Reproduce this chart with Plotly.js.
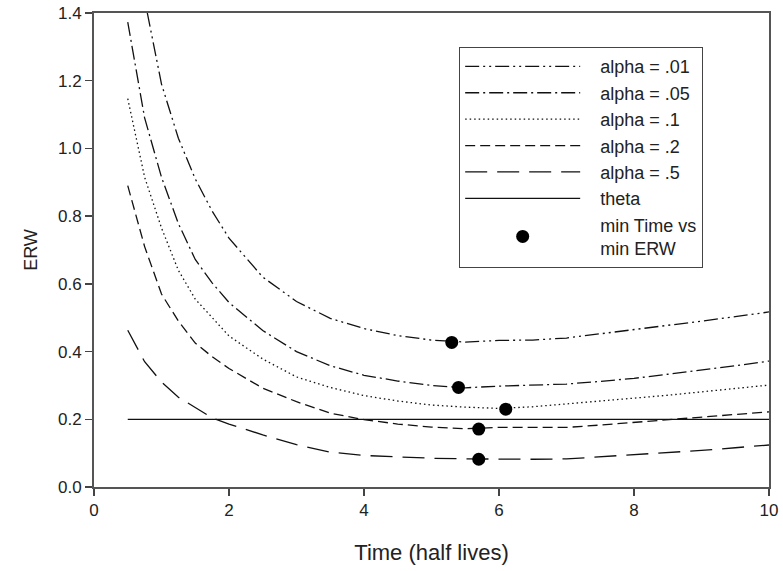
<!DOCTYPE html>
<html>
<head>
<meta charset="utf-8">
<script src="https://cdn.plot.ly/plotly-3.0.1.min.js"></script>
<style>html,body{margin:0;padding:0;background:#fff;}#chart{width:783px;height:571px;}</style>
</head>
<body>
<div id="chart"></div>
<script>
var time = [0.5, 0.75, 1, 1.25, 1.5, 1.75, 2, 2.5, 3, 3.5, 4, 4.5, 5, 5.5, 6, 6.5, 7, 7.5, 8, 8.5, 9, 9.5, 10];
var erwAlpha01 = [1.75, 1.44, 1.19, 1.03, 0.91, 0.815, 0.735, 0.62, 0.548, 0.498, 0.468, 0.447, 0.434, 0.428, 0.433, 0.434, 0.440, 0.452, 0.465, 0.477, 0.490, 0.503, 0.517];
var erwAlpha05 = [1.373, 1.09, 0.915, 0.778, 0.672, 0.603, 0.545, 0.462, 0.400, 0.358, 0.330, 0.313, 0.300, 0.293, 0.298, 0.300, 0.304, 0.312, 0.321, 0.333, 0.345, 0.358, 0.372];
var erwAlpha1 = [1.147, 0.915, 0.765, 0.64, 0.555, 0.50, 0.446, 0.378, 0.325, 0.294, 0.270, 0.254, 0.242, 0.236, 0.232, 0.237, 0.245, 0.254, 0.262, 0.271, 0.281, 0.291, 0.301];
var erwAlpha2 = [0.89, 0.71, 0.57, 0.49, 0.425, 0.385, 0.350, 0.292, 0.252, 0.218, 0.199, 0.186, 0.177, 0.172, 0.176, 0.176, 0.176, 0.183, 0.191, 0.199, 0.207, 0.214, 0.222];
var erwAlpha5 = [0.463, 0.37, 0.31, 0.265, 0.235, 0.204, 0.186, 0.154, 0.125, 0.103, 0.093, 0.088, 0.085, 0.083, 0.082, 0.082, 0.083, 0.089, 0.095, 0.101, 0.108, 0.116, 0.124];
var thetaX = [0.5, 10];
var thetaY = [0.2, 0.2];
var minTime = [5.3, 5.4, 6.1, 5.7, 5.7];
var minErw = [0.427, 0.294, 0.230, 0.171, 0.082];
var seriesNames = ['alpha = .01', 'alpha = .05', 'alpha = .1', 'alpha = .2', 'alpha = .5', 'theta', 'min Time vs<br>min ERW'];
var xTicks = [0, 2, 4, 6, 8, 10];
var yTicks = [0, 0.2, 0.4, 0.6, 0.8, 1.0, 1.2, 1.4];

var pad = '\u00a0\u00a0\u00a0';
function legendName(n) { return n.split('<br>').map(function (s) { return pad + s; }).join('<br>'); }

var lineColor = '#111';
function lineTrace(y, name, dash) {
  return {x: time, y: y, name: legendName(name), type: 'scatter', mode: 'lines',
          line: {color: lineColor, width: 1.3, dash: dash}};
}
var traces = [
  lineTrace(erwAlpha01, seriesNames[0], '14px,4px,2px,4px,2px,4px'),
  lineTrace(erwAlpha05, seriesNames[1], '14px,4px,2px,4px'),
  lineTrace(erwAlpha1, seriesNames[2], '1.5px,3px'),
  lineTrace(erwAlpha2, seriesNames[3], '10px,5px'),
  lineTrace(erwAlpha5, seriesNames[4], '22px,10px'),
  {x: thetaX, y: thetaY, name: legendName(seriesNames[5]), type: 'scatter', mode: 'lines',
   line: {color: lineColor, width: 1.3}},
  {x: minTime, y: minErw, name: legendName(seriesNames[6]), type: 'scatter', mode: 'markers',
   marker: {color: '#000', size: 13}}
];

var fam = 'Liberation Sans, Arial, sans-serif';
var tickFont = {family: fam, size: 17, color: '#222'};
var layout = {
  width: 783, height: 571,
  margin: {l: 94, r: 14, t: 13, b: 84},
  paper_bgcolor: '#fff', plot_bgcolor: '#fff',
  font: tickFont,
  showlegend: true,
  xaxis: {
    range: [0, 10], tickvals: xTicks, ticks: 'outside', ticklen: 7, tickwidth: 1.3, tickcolor: '#444',
    showline: true, linecolor: '#555', linewidth: 2, mirror: true, showgrid: false, zeroline: false,
    tickfont: tickFont,
    title: {text: 'Time (half lives)', font: {family: fam, size: 22, color: '#222'}, standoff: 25}
  },
  yaxis: {
    range: [0, 1.4], tickvals: yTicks, tickformat: '.1f', ticks: 'outside', ticklen: 7, tickwidth: 1.3, tickcolor: '#444',
    showline: true, linecolor: '#555', linewidth: 2, mirror: true, showgrid: false, zeroline: false,
    tickfont: tickFont,
    title: {text: 'ERW', font: {family: fam, size: 18, color: '#222'}, standoff: 16}
  },
  legend: {
    x: 0.541, y: 0.928, xanchor: 'left', yanchor: 'top',
    bordercolor: '#444', borderwidth: 1, bgcolor: '#fff',
    font: {family: fam, size: 18, color: '#222'},
    itemwidth: 115, tracegroupgap: 0
  }
};
Plotly.newPlot('chart', traces, layout, {displayModeBar: false, staticPlot: true});
</script>
</body>
</html>
